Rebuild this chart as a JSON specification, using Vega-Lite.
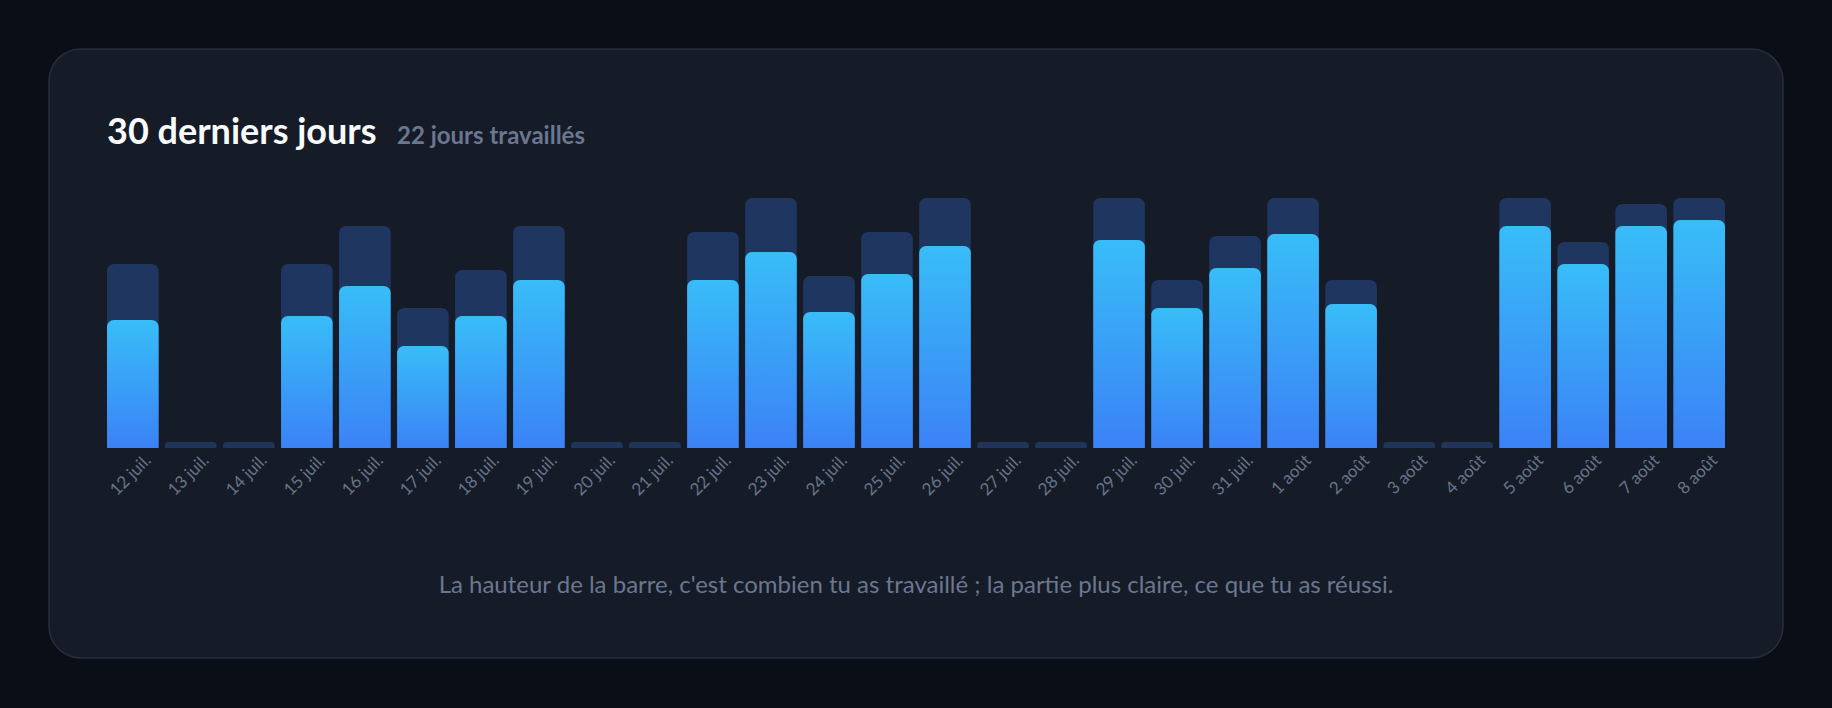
{
  "$schema": "https://vega.github.io/schema/vega-lite/v6.json",
  "width": 1832,
  "height": 708,
  "autosize": {"type": "fit", "contains": "padding"},
  "padding": {"left": 49, "top": 49, "right": 49, "bottom": 50},
  "background": "#0a0e17",
  "config": {
    "view": {"fill": "#151b27", "stroke": "#262e3c", "strokeWidth": 1.5, "cornerRadius": 32},
    "text": {"font": "Lato"}
  },
  "data": {
    "values": [
      {"jour": "12 juil.", "travail": 184, "reussi": 128},
      {"jour": "13 juil.", "travail": 0, "reussi": 0},
      {"jour": "14 juil.", "travail": 0, "reussi": 0},
      {"jour": "15 juil.", "travail": 184, "reussi": 132},
      {"jour": "16 juil.", "travail": 222, "reussi": 162},
      {"jour": "17 juil.", "travail": 140, "reussi": 102},
      {"jour": "18 juil.", "travail": 178, "reussi": 132},
      {"jour": "19 juil.", "travail": 222, "reussi": 168},
      {"jour": "20 juil.", "travail": 0, "reussi": 0},
      {"jour": "21 juil.", "travail": 0, "reussi": 0},
      {"jour": "22 juil.", "travail": 216, "reussi": 168},
      {"jour": "23 juil.", "travail": 250, "reussi": 196},
      {"jour": "24 juil.", "travail": 172, "reussi": 136},
      {"jour": "25 juil.", "travail": 216, "reussi": 174},
      {"jour": "26 juil.", "travail": 250, "reussi": 202},
      {"jour": "27 juil.", "travail": 0, "reussi": 0},
      {"jour": "28 juil.", "travail": 0, "reussi": 0},
      {"jour": "29 juil.", "travail": 250, "reussi": 208},
      {"jour": "30 juil.", "travail": 168, "reussi": 140},
      {"jour": "31 juil.", "travail": 212, "reussi": 180},
      {"jour": "1 août", "travail": 250, "reussi": 214},
      {"jour": "2 août", "travail": 168, "reussi": 144},
      {"jour": "3 août", "travail": 0, "reussi": 0},
      {"jour": "4 août", "travail": 0, "reussi": 0},
      {"jour": "5 août", "travail": 250, "reussi": 222},
      {"jour": "6 août", "travail": 206, "reussi": 184},
      {"jour": "7 août", "travail": 244, "reussi": 222},
      {"jour": "8 août", "travail": 250, "reussi": 228}
    ]
  },
  "layer": [
    {
      "encoding": {
        "x": {
          "field": "jour", "type": "ordinal", "sort": null, "axis": null,
          "scale": {
            "domain": ["12 juil.", "13 juil.", "14 juil.", "15 juil.", "16 juil.", "17 juil.", "18 juil.", "19 juil.", "20 juil.", "21 juil.", "22 juil.", "23 juil.", "24 juil.", "25 juil.", "26 juil.", "27 juil.", "28 juil.", "29 juil.", "30 juil.", "31 juil.", "1 août", "2 août", "3 août", "4 août", "5 août", "6 août", "7 août", "8 août"],
            "paddingInner": 0.11, "paddingOuter": 1
          }
        }
      },
      "layer": [
        {
          "transform": [{"filter": "datum.travail == 0"}],
          "mark": {"type": "bar", "color": "#1f3559", "cornerRadiusTopLeft": 5, "cornerRadiusTopRight": 5},
          "encoding": {
            "y": {"datum": 6, "type": "quantitative", "axis": null, "scale": {"domain": [-210, 399], "nice": false, "zero": false}},
            "y2": {"datum": 0}
          }
        },
        {
          "transform": [{"filter": "datum.travail > 0"}],
          "mark": {"type": "bar", "color": "#1f3661", "cornerRadiusTopLeft": 7, "cornerRadiusTopRight": 7},
          "encoding": {
            "y": {"field": "travail", "type": "quantitative", "axis": null, "scale": {"domain": [-210, 399], "nice": false, "zero": false}},
            "y2": {"datum": 0}
          }
        },
        {
          "transform": [{"filter": "datum.reussi > 0"}],
          "mark": {
            "type": "bar",
            "cornerRadiusTopLeft": 7,
            "cornerRadiusTopRight": 7,
            "color": {
              "gradient": "linear",
              "x1": 0, "y1": 0, "x2": 0, "y2": 1,
              "stops": [
                {"offset": 0, "color": "#38bdf8"},
                {"offset": 1, "color": "#3b82f6"}
              ]
            }
          },
          "encoding": {
            "y": {"field": "reussi", "type": "quantitative", "axis": null, "scale": {"domain": [-210, 399], "nice": false, "zero": false}},
            "y2": {"datum": 0}
          }
        },
        {
          "mark": {"type": "text", "angle": -45, "align": "right", "baseline": "middle", "dx": 4, "dy": 18, "fontSize": 17, "color": "#687489"},
          "encoding": {
            "y": {"datum": 0, "type": "quantitative", "scale": {"domain": [-210, 399], "nice": false, "zero": false}},
            "text": {"field": "jour"}
          }
        },
        {
          "data": {"values": [{"titre": "30 derniers jours", "sous": "22 jours travaillés"}]},
          "mark": {"type": "text", "align": "left", "baseline": "alphabetic", "fontSize": 36, "fontWeight": "bold", "color": "#f8fafc"},
          "encoding": {
            "x": {"datum": "12 juil.", "bandPosition": 0},
            "y": {"datum": 304, "type": "quantitative", "scale": {"domain": [-210, 399], "nice": false, "zero": false}},
            "text": {"field": "titre"}
          }
        },
        {
          "data": {"values": [{"titre": "30 derniers jours", "sous": "22 jours travaillés"}]},
          "mark": {"type": "text", "align": "left", "baseline": "alphabetic", "dx": 290, "fontSize": 24, "fontWeight": "bold", "color": "#6b778f"},
          "encoding": {
            "x": {"datum": "12 juil.", "bandPosition": 0},
            "y": {"datum": 304, "type": "quantitative", "scale": {"domain": [-210, 399], "nice": false, "zero": false}},
            "text": {"field": "sous"}
          }
        }
      ]
    },
    {
      "data": {"values": [{"note": "La hauteur de la barre, c'est combien tu as travaillé ; la partie plus claire, ce que tu as réussi."}]},
      "mark": {"type": "text", "align": "center", "baseline": "middle", "fontSize": 24, "color": "#6b778f"},
      "encoding": {
        "x": {"datum": 0.5, "type": "quantitative", "axis": null, "scale": {"domain": [0, 1]}},
        "y": {"datum": -138, "type": "quantitative", "scale": {"domain": [-210, 399], "nice": false, "zero": false}},
        "text": {"field": "note"}
      }
    }
  ],
  "resolve": {"scale": {"x": "independent"}}
}
